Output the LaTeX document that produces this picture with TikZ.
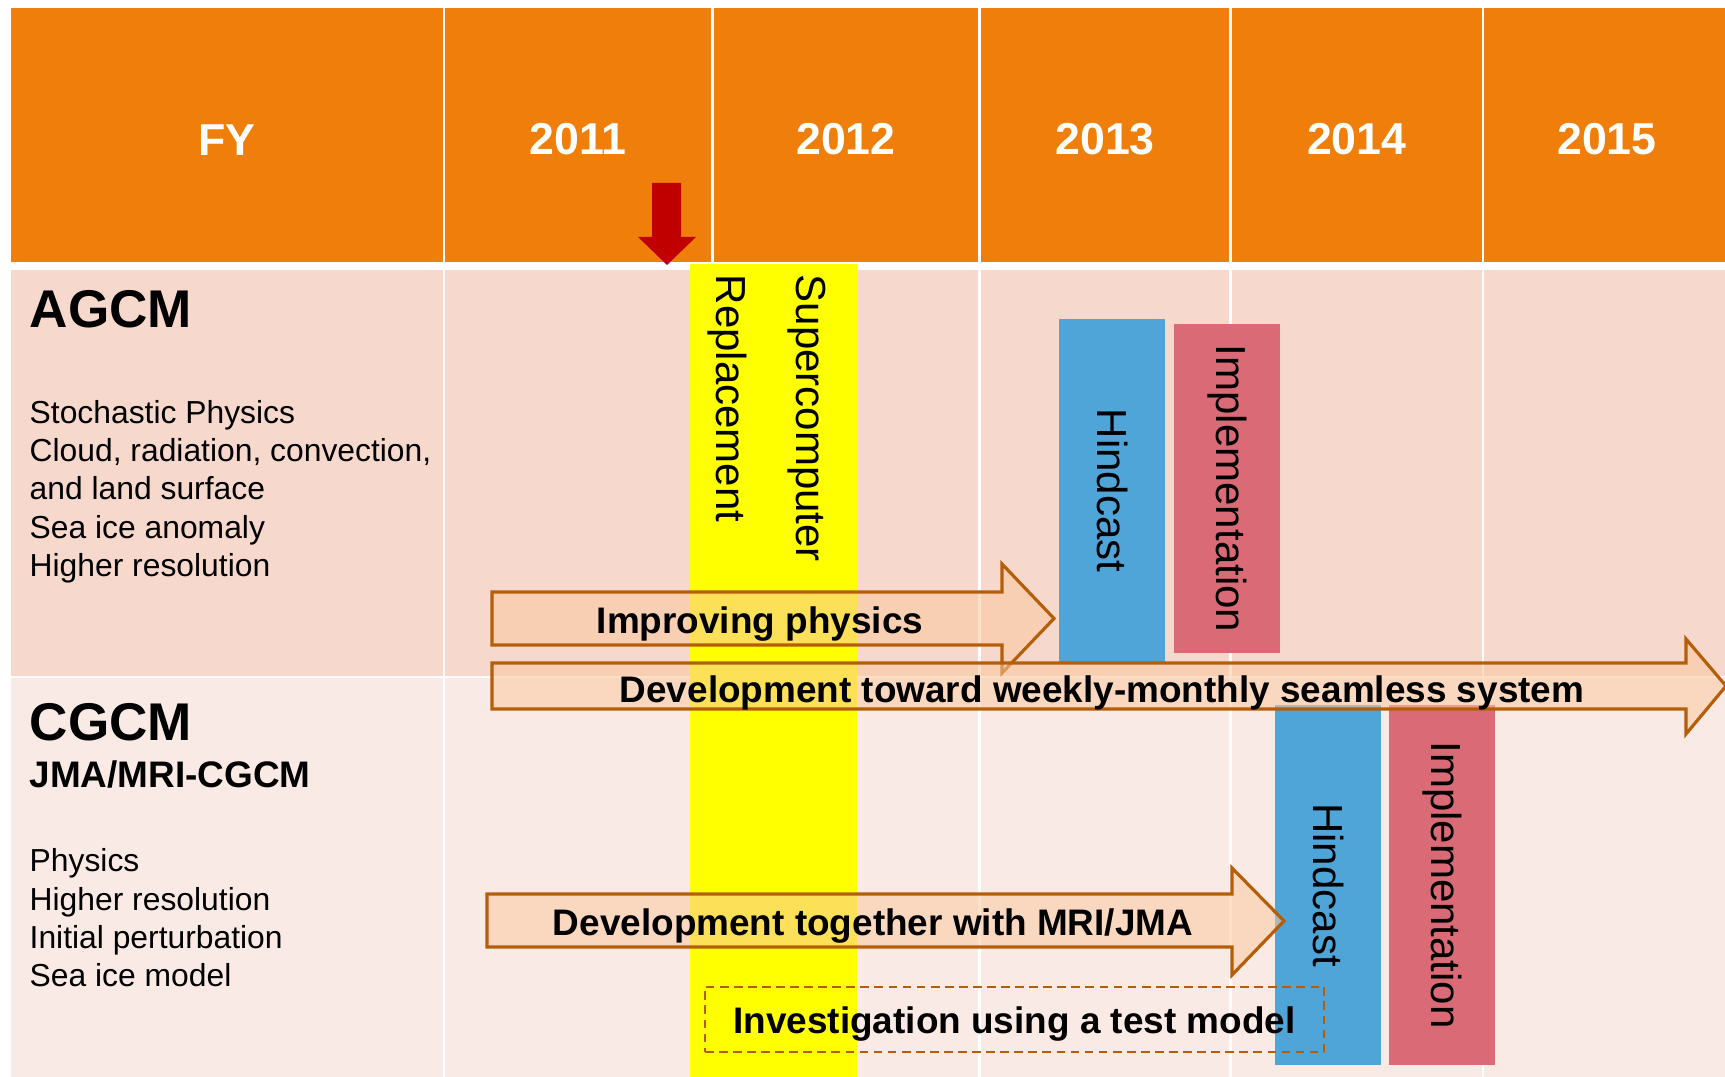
\documentclass[tikz,border=0pt]{standalone}
\usepackage{fontspec}
\setmainfont{Liberation Sans}
\usetikzlibrary{positioning}

\definecolor{fyorange}{RGB}{239,127,10}
\definecolor{agcmpink}{RGB}{247,216,204}
\definecolor{cgcmpink}{RGB}{250,234,229}
\definecolor{swapyellow}{RGB}{255,255,0}
\definecolor{hindblue}{RGB}{79,165,216}
\definecolor{implred}{RGB}{217,106,118}
\definecolor{arrowbrown}{RGB}{181,94,10}
\definecolor{arrowpeach}{RGB}{250,200,160}
\definecolor{markred}{RGB}{192,0,0}

\begin{document}
\begin{tikzpicture}[x=0.01cm,y=-0.01cm]
\useasboundingbox (0,0) rectangle (1725,1077);

\tikzstyle{cell} = [inner sep=0pt,outer sep=0pt,draw=white,line width=0.7pt];
\tikzstyle{headcell} = [cell,minimum height=2.56cm,fill=fyorange,text=white,text height=0.4cm,font=\fontsize{12.7}{15}\selectfont\bfseries];
\tikzstyle{agcmcell} = [cell,minimum height=4.085cm,fill=agcmpink];
\tikzstyle{cgcmcell} = [cell,minimum height=4.13cm,fill=cgcmpink];
\tikzstyle{taskbox} = [inner sep=0pt,rotate=-90,minimum height=1.06cm,font=\fontsize{11.95}{14}\selectfont];
\tikzstyle{arrowbox} = [draw=arrowbrown,line width=0.9pt,fill=arrowpeach,fill opacity=0.55];
\tikzstyle{arrowtext} = [inner sep=0pt,text height=0.35cm,text depth=0.08cm,font=\fontsize{10.5}{12.6}\selectfont\bfseries];
\tikzstyle{listtext} = [anchor=base west,inner sep=0pt,align=left,font=\fontsize{9.05}{10.87}\selectfont];
\tikzstyle{titletext} = [anchor=base west,inner sep=0pt,font=\fontsize{15.1}{18}\selectfont\bfseries];

\node [headcell,anchor=north west,minimum width=4.34cm] (fy) at (10,7) {FY};
\node [headcell,anchor=west,minimum width=2.68cm] (y2011) at (fy.east) {2011};
\node [headcell,anchor=west,minimum width=2.67cm] (y2012) at (y2011.east) {2012};
\node [headcell,anchor=west,minimum width=2.51cm] (y2013) at (y2012.east) {2013};
\node [headcell,anchor=west,minimum width=2.52cm] (y2014) at (y2013.east) {2014};
\node [headcell,anchor=west,minimum width=2.48cm] (y2015) at (y2014.east) {2015};

\node [agcmcell,anchor=north west,minimum width=4.34cm] (agcm) at (10,268.5) {};
\node [agcmcell,anchor=west,minimum width=2.68cm] (a2011) at (agcm.east) {};
\node [agcmcell,anchor=west,minimum width=2.67cm] (a2012) at (a2011.east) {};
\node [agcmcell,anchor=west,minimum width=2.51cm] (a2013) at (a2012.east) {};
\node [agcmcell,anchor=west,minimum width=2.52cm] (a2014) at (a2013.east) {};
\node [agcmcell,anchor=west,minimum width=2.48cm] (a2015) at (a2014.east) {};

\node [cgcmcell,anchor=north west,minimum width=4.34cm] (cgcm) at (agcm.south west) {};
\node [cgcmcell,anchor=west,minimum width=2.68cm] (c2011) at (cgcm.east) {};
\node [cgcmcell,anchor=west,minimum width=2.67cm] (c2012) at (c2011.east) {};
\node [cgcmcell,anchor=west,minimum width=2.51cm] (c2013) at (c2012.east) {};
\node [cgcmcell,anchor=west,minimum width=2.52cm] (c2014) at (c2013.east) {};
\node [cgcmcell,anchor=west,minimum width=2.48cm] (c2015) at (c2014.east) {};

\node [fill=swapyellow,inner sep=0pt,anchor=north west,minimum width=1.67cm,minimum height=8.3cm] (swap) at (689,263) {};
\node [inner sep=0pt,rotate=-90,anchor=west,font=\fontsize{11.95}{14}\selectfont] (repl) at (727,274) {Replacement};
\node [inner sep=0pt,rotate=-90,anchor=west,font=\fontsize{11.95}{14}\selectfont] (super) at (807,274) {Supercomputer};

\fill [markred] (652,183) -- (681,183) -- (681,237) -- (696,237) -- (667,265) -- (638,237) -- (652,237) -- cycle;

\node [taskbox,fill=hindblue,minimum width=3.43cm] (ahind) at (1112,490.5) {Hindcast};
\node [taskbox,fill=implred,minimum width=3.29cm] (aimpl) at (1227,488.5) {Implementation};
\node [taskbox,fill=hindblue,minimum width=3.6cm] (chind) at (1328,885) {Hindcast};
\node [taskbox,fill=implred,minimum width=3.6cm] (cimpl) at (1442,885) {Implementation};

\draw [arrowbox] (492,592) -- (1002,592) -- (1002,564) -- (1054,618.5) -- (1002,673) -- (1002,645) -- (492,645) -- cycle;
\draw [arrowbox] (492,663) -- (1686,663) -- (1686,639) -- (1726,686) -- (1686,734) -- (1686,709) -- (492,709) -- cycle;
\draw [arrowbox] (487,894) -- (1232,894) -- (1232,868) -- (1284,921) -- (1232,975) -- (1232,947) -- (487,947) -- cycle;

\node [arrowtext] (improve) at (760,620) {Improving physics};
\node [arrowtext] (seamless) at (1102,689) {Development toward weekly-monthly seamless system};
\node [arrowtext] (together) at (873,922) {Development together with MRI/JMA};
\node [arrowtext,draw=arrowbrown,dash pattern=on 2.5pt off 1.5pt,line width=0.6pt,minimum width=6.19cm,minimum height=0.65cm] (testmodel) at (1014.5,1019.5) {Investigation using a test model};

\node [titletext] (agcmtitle) at (29,328) {AGCM};
\node [listtext] (agcmlist) at (29,576.3) {Stochastic Physics\\Cloud, radiation, convection,\\and land surface\\Sea ice anomaly\\Higher resolution};
\node [titletext] (cgcmtitle) at (29,741) {CGCM};
\node [titletext,font=\fontsize{10.5}{12.6}\selectfont\bfseries] (cgcmsub) at (29,788) {JMA/MRI-CGCM};
\node [listtext] (cgcmlist) at (29,986.6) {Physics\\Higher resolution\\Initial perturbation\\Sea ice model};

\end{tikzpicture}
\end{document}
